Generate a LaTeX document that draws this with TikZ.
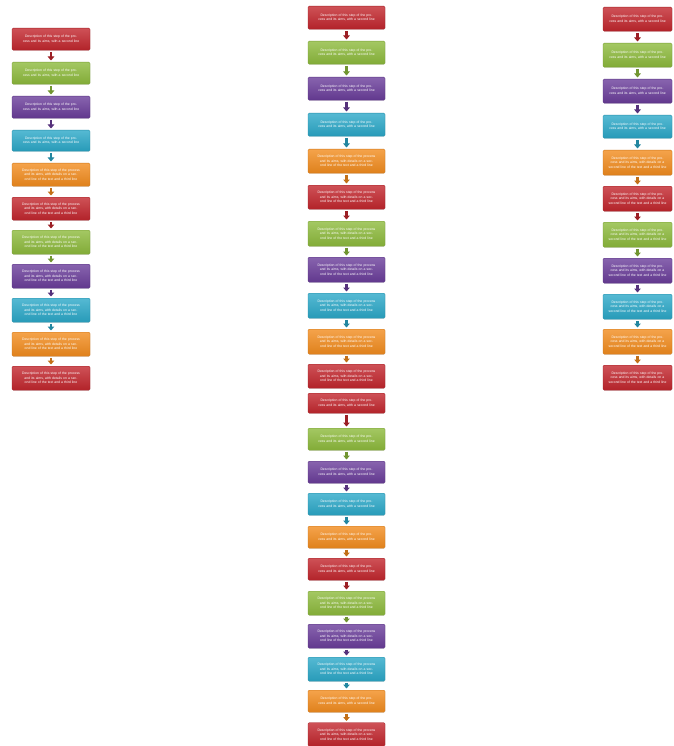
\documentclass[tikz,border=0pt]{standalone}
\usepackage{fontspec}
\setmainfont{Liberation Sans}
\usetikzlibrary{arrows.meta,shadows}
\definecolor{cR}{HTML}{C2262D}
\definecolor{cG}{HTML}{8DBA3C}
\definecolor{cP}{HTML}{6A3D9A}
\definecolor{cC}{HTML}{2BA8C8}
\definecolor{cO}{HTML}{F28C1E}
\tikzset{
 box/.style={rectangle, rounded corners=1.2pt, draw=#1!85!black, line width=0.3pt,
   top color=#1!80!white, bottom color=#1!92!black, text=white,
   font=\fontsize{3.4}{4.4}\selectfont, align=center, inner xsep=2pt, inner ysep=1pt,
   anchor=north, drop shadow={opacity=0.2, shadow xshift=0.4pt, shadow yshift=-0.6pt}},
 arr/.style={draw=#1!80!black, line width=2.8pt, -{Triangle[width=6.5pt,length=4pt]},
   shorten <=1.5pt, shorten >=1.5pt},
}
% name, colour, x centre, y top, text width, height, text
\newcommand\mybox[7]{\node[box=#2, text width=#5pt, minimum height=#6pt] (#1) at (#3pt,-#4pt) {\hyphenpenalty=10000\relax #7};}
\newcommand\ttwo{Description of this step of the process and its aims, with a second line}
\newcommand\tthree{Description of this step of the process and its aims, with details on a second line of the text and a third line}
\begin{document}
\begin{tikzpicture}
\useasboundingbox[fill=white] (0,0) rectangle (673pt,-746pt);
% left column
\mybox{L1}{cR}{51}{28}{74}{22}{\ttwo}
\mybox{L2}{cG}{51}{62}{74}{22}{\ttwo}
\mybox{L3}{cP}{51}{96}{74}{22}{\ttwo}
\mybox{L4}{cC}{51}{130}{74}{21}{\ttwo}
\mybox{L5}{cO}{51}{163}{74}{23}{\tthree}
\mybox{L6}{cR}{51}{197}{74}{23}{\tthree}
\mybox{L7}{cG}{51}{230}{74}{24}{\tthree}
\mybox{L8}{cP}{51}{264}{74}{24}{\tthree}
\mybox{L9}{cC}{51}{298}{74}{24}{\tthree}
\mybox{L10}{cO}{51}{332}{74}{24}{\tthree}
\mybox{L11}{cR}{51}{366}{74}{24}{\tthree}
% middle column, first group
\mybox{M1}{cR}{346.5}{6}{73}{23}{\ttwo}
\mybox{M2}{cG}{346.5}{41}{73}{23}{\ttwo}
\mybox{M3}{cP}{346.5}{77}{73}{23}{\ttwo}
\mybox{M4}{cC}{346.5}{113}{73}{23}{\ttwo}
\mybox{M5}{cO}{346.5}{149}{73}{24}{\tthree}
\mybox{M6}{cR}{346.5}{185}{73}{24}{\tthree}
\mybox{M7}{cG}{346.5}{221}{73}{25}{\tthree}
\mybox{M8}{cP}{346.5}{257}{73}{25}{\tthree}
\mybox{M9}{cC}{346.5}{293}{73}{25}{\tthree}
\mybox{M10}{cO}{346.5}{329}{73}{25}{\tthree}
\mybox{M11}{cR}{346.5}{364}{73}{24}{\tthree}
% middle column, second group
\mybox{N1}{cR}{346.5}{393}{73}{20}{\ttwo}
\mybox{N2}{cG}{346.5}{428}{73}{22}{\ttwo}
\mybox{N3}{cP}{346.5}{461}{73}{22}{\ttwo}
\mybox{N4}{cC}{346.5}{493}{73}{22}{\ttwo}
\mybox{N5}{cO}{346.5}{526}{73}{22}{\ttwo}
\mybox{N6}{cR}{346.5}{558}{73}{22}{\ttwo}
\mybox{N7}{cG}{346.5}{591}{73}{24}{\tthree}
\mybox{N8}{cP}{346.5}{624}{73}{24}{\tthree}
\mybox{N9}{cC}{346.5}{657}{73}{24}{\tthree}
\mybox{N10}{cO}{346.5}{690}{73}{22}{\ttwo}
\mybox{N11}{cR}{346.5}{722.5}{73}{23.5}{\tthree}
% right column
\mybox{R1}{cR}{637.5}{7}{65}{24}{\ttwo}
\mybox{R2}{cG}{637.5}{43}{65}{24}{\ttwo}
\mybox{R3}{cP}{637.5}{79}{65}{24}{\ttwo}
\mybox{R4}{cC}{637.5}{115}{65}{23}{\ttwo}
\mybox{R5}{cO}{637.5}{150}{65}{25}{\tthree}
\mybox{R6}{cR}{637.5}{186}{65}{25}{\tthree}
\mybox{R7}{cG}{637.5}{222}{65}{25}{\tthree}
\mybox{R8}{cP}{637.5}{258}{65}{25}{\tthree}
\mybox{R9}{cC}{637.5}{294}{65}{25}{\tthree}
\mybox{R10}{cO}{637.5}{329}{65}{25}{\tthree}
\mybox{R11}{cR}{637.5}{365}{65}{25}{\tthree}
% arrows
\foreach \p in {L,M,N,R}{
  \draw[arr=cR] (\p1.south) -- (\p2.north);
  \draw[arr=cG] (\p2.south) -- (\p3.north);
  \draw[arr=cP] (\p3.south) -- (\p4.north);
  \draw[arr=cC] (\p4.south) -- (\p5.north);
  \draw[arr=cO] (\p5.south) -- (\p6.north);
  \draw[arr=cR] (\p6.south) -- (\p7.north);
  \draw[arr=cG] (\p7.south) -- (\p8.north);
  \draw[arr=cP] (\p8.south) -- (\p9.north);
  \draw[arr=cC] (\p9.south) -- (\p10.north);
  \draw[arr=cO] (\p10.south) -- (\p11.north);
}
\end{tikzpicture}
\end{document}
